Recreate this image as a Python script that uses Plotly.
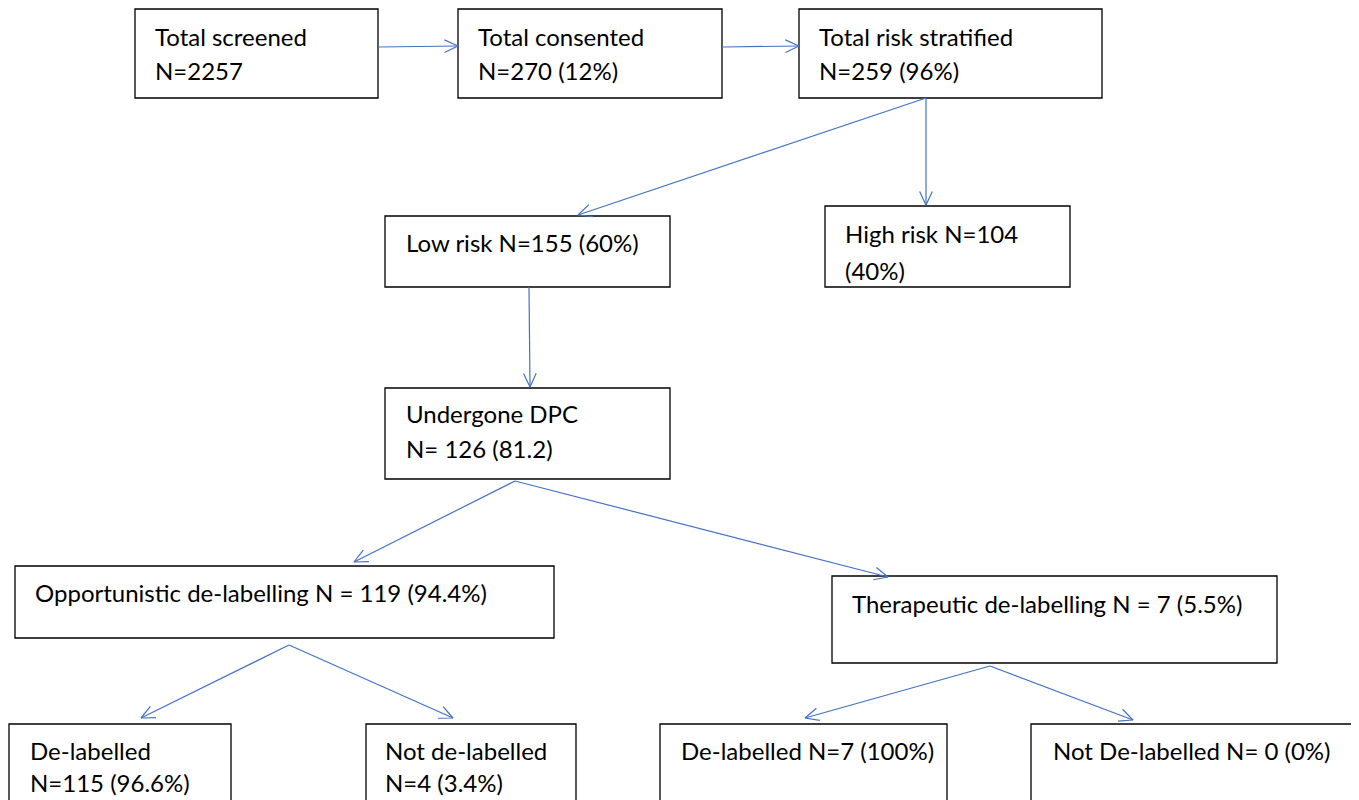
import math
import plotly.graph_objects as go

# ---- content (text of each box) ----
box_names = ["screened", "consented", "stratified", "low", "high", "dpc",
             "opp", "ther", "opp_yes", "opp_no", "ther_yes", "ther_no"]
box_line1 = ["Total screened", "Total consented", "Total risk stratified",
             "Low risk N=155 (60%)", "High risk N=104", "Undergone DPC",
             "Opportunistic de-labelling N = 119 (94.4%)",
             "Therapeutic de-labelling N = 7 (5.5%)",
             "De-labelled", "Not de-labelled",
             "De-labelled N=7 (100%)", "Not De-labelled N= 0 (0%)"]
box_line2 = ["N=2257", "N=270 (12%)", "N=259 (96%)", "", "(40%)", "N= 126 (81.2)",
             "", "", "N=115 (96.6%)", "N=4 (3.4%)", "", ""]

# ---- layout geometry (pixels: x0, y0, x1, y1) ----
box_geom = {
    "screened":   (135, 9, 378, 98),
    "consented":  (458, 9, 722, 98),
    "stratified": (799, 9, 1102, 98),
    "low":        (385, 216, 670, 287),
    "high":       (825, 206, 1070, 287),
    "dpc":        (385, 388, 670, 479),
    "opp":        (15, 566, 554, 638),
    "ther":       (832, 576, 1277, 663),
    "opp_yes":    (9, 724, 231, 812),
    "opp_no":     (366, 724, 576, 812),
    "ther_yes":   (660, 724, 947, 812),
    "ther_no":    (1031, 724, 1358, 812),
}
# text anchors: (x, y line1, y line2)
text_pos = {
    "screened":   (153, 36, 70),
    "consented":  (476, 36, 70),
    "stratified": (817, 36, 70),
    "low":        (404, 242, None),
    "high":       (843, 233, 270),
    "dpc":        (404, 413, 448),
    "opp":        (33, 592, None),
    "ther":       (850, 603, None),
    "opp_yes":    (28, 750, 782),
    "opp_no":     (383, 750, 782),
    "ther_yes":   (679, 750, None),
    "ther_no":    (1051, 750, None),
}
# connectors: (x_start, y_start, x_end, y_end)
arrows = [
    (378, 47, 458, 46),
    (722, 47, 799, 46),
    (926, 98, 578, 215),
    (926, 98, 926, 205),
    (529, 287, 530, 387),
    (515, 481, 354, 562),
    (515, 481, 888, 577),
    (289, 645, 141, 718),
    (289, 645, 453, 718),
    (990, 666, 805, 718),
    (990, 666, 1133, 720),
]

LINE_BLUE = "#4472C4"
FONT = "Lato"
FS = 24
OFF = 8  # page body margin

fig = go.Figure()

shapes = []
for name in box_names:
    x0, y0, x1, y1 = box_geom[name]
    shapes.append(dict(type="rect", x0=x0, y0=y0, x1=x1, y1=y1,
                       xref="x", yref="y",
                       line=dict(color="#000000", width=1.3),
                       fillcolor="white", layer="below"))

head_len, head_ang = 15, math.radians(25)
for (xs, ys, xe, ye) in arrows:
    fig.add_trace(go.Scatter(x=[xs, xe], y=[ys, ye], mode="lines",
                             line=dict(color=LINE_BLUE, width=1.2),
                             hoverinfo="skip", showlegend=False))
    ang = math.atan2(ye - ys, xe - xs)
    hx, hy = [], []
    for s in (1, -1):
        a = ang + math.pi + s * head_ang
        hx.append(xe + head_len * math.cos(a))
        hy.append(ye + head_len * math.sin(a))
    fig.add_trace(go.Scatter(x=[hx[0], xe, hx[1]], y=[hy[0], ye, hy[1]],
                             mode="lines", line=dict(color=LINE_BLUE, width=1.2),
                             hoverinfo="skip", showlegend=False))

annotations = []
for name, l1, l2 in zip(box_names, box_line1, box_line2):
    tx, ty1, ty2 = text_pos[name]
    annotations.append(dict(x=tx, y=ty1, xref="x", yref="y", text=l1,
                            showarrow=False, xanchor="left", yanchor="middle",
                            font=dict(family=FONT, size=FS, color="#000000")))
    if l2 and ty2 is not None:
        annotations.append(dict(x=tx, y=ty2, xref="x", yref="y", text=l2,
                                showarrow=False, xanchor="left", yanchor="middle",
                                font=dict(family=FONT, size=FS, color="#000000")))

fig.update_layout(
    width=1359 - OFF, height=800 - OFF,
    margin=dict(l=0, r=0, t=0, b=0),
    paper_bgcolor="white", plot_bgcolor="white",
    xaxis=dict(range=[OFF, 1359], visible=False, fixedrange=True),
    yaxis=dict(range=[800, OFF], visible=False, fixedrange=True),
    shapes=shapes, annotations=annotations,
)

fig.write_html("out.html", config={"displayModeBar": False})
